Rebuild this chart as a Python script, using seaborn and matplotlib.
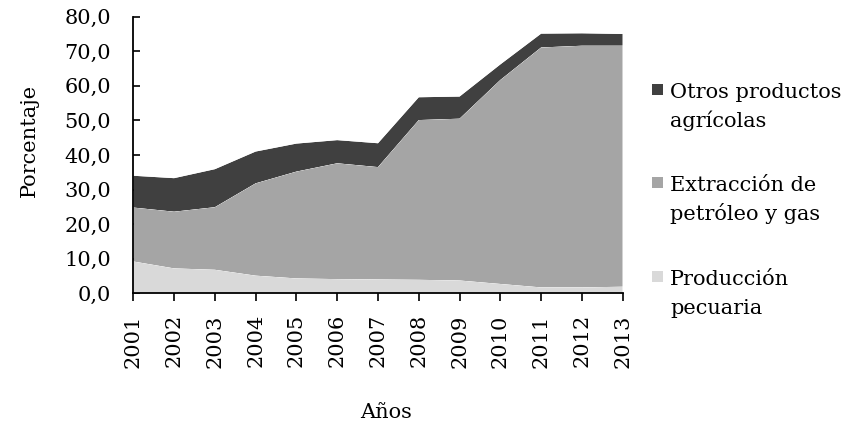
import matplotlib
matplotlib.use("Agg")
import matplotlib.pyplot as plt
from matplotlib.patches import Rectangle
import pandas as pd
import seaborn as sns
import seaborn.objects as so

# ---- data -------------------------------------------------------------
years = list(range(2001, 2014))
pecuaria = [9.2, 7.2, 6.8, 5.1, 4.3, 4.1, 4.0, 3.9, 3.7, 2.7, 1.7, 1.7, 1.9]
petroleo = [15.6, 16.4, 18.1, 26.7, 30.9, 33.5, 32.5, 46.2, 46.8, 59.0, 69.4, 69.9, 69.7]
otros = [9.2, 9.7, 11.0, 9.2, 8.1, 6.7, 6.9, 6.6, 6.4, 4.5, 4.0, 3.6, 3.4]

series_names = ["Producción pecuaria", "Extracción de petróleo y gas",
                "Otros productos agrícolas"]
series_colors = ["#d9d9d9", "#a5a5a5", "#404040"]

yticks = [0, 10, 20, 30, 40, 50, 60, 70, 80]
ytick_labels = [f"{v:.1f}".replace(".", ",") for v in yticks]
xtick_labels = [str(y) for y in years]

legend_order = [2, 1, 0]
legend_lines = {
    "Otros productos agrícolas": ["Otros productos", "agrícolas"],
    "Extracción de petróleo y gas": ["Extracción de", "petróleo y gas"],
    "Producción pecuaria": ["Producción", "pecuaria"],
}

# ---- long-form table ---------------------------------------------------
rows = []
for name, vals in zip(series_names, [pecuaria, petroleo, otros]):
    for yr, v in zip(years, vals):
        rows.append({"year": yr, "value": v, "series": name})
df = pd.DataFrame(rows)

# ---- style ------------------------------------------------------------
sns.set_theme(style="white")
FONT = ["DejaVu Serif"]
plt.rcParams["font.family"] = FONT
FS = 15

W, H = 862, 422
fig = plt.figure(figsize=(W / 100, H / 100), dpi=100)
ax_l, ax_r, ax_t, ax_b = 133.3, 622.7, 16.7, 293.3
ax = fig.add_axes([ax_l / W, 1 - ax_b / H, (ax_r - ax_l) / W, (ax_b - ax_t) / H])

theme = dict(sns.axes_style("white"))
theme.update({"font.family": FONT, "axes.facecolor": "white"})

(
    so.Plot(df, x="year", y="value", color="series")
    .add(so.Area(alpha=1, edgewidth=0), so.Stack(), legend=False)
    .scale(color=so.Nominal(dict(zip(series_names, series_colors)), order=series_names))
    .theme(theme)
    .on(ax)
    .plot()
)
for lg in list(fig.legends):
    lg.remove()

# ---- axes cosmetics -----------------------------------------------------
ax.set_facecolor("white")
ax.grid(False)
ax.set_xlim(years[0], years[-1])
ax.set_ylim(yticks[0], yticks[-1])
ax.set_xticks(years)
ax.set_xticklabels(xtick_labels, rotation=90, fontsize=FS, family=FONT)
ax.set_yticks(yticks)
ax.set_yticklabels(ytick_labels, fontsize=FS, family=FONT)
ax.tick_params(axis="y", direction="in", length=5, width=1.2, pad=16,
               left=True, colors="black")
ax.tick_params(axis="x", direction="out", length=6, width=1.2, pad=9,
               bottom=True, colors="black")
for s in ["top", "right"]:
    ax.spines[s].set_visible(False)
for s in ["left", "bottom"]:
    ax.spines[s].set_visible(True)
    ax.spines[s].set_color("black")
    ax.spines[s].set_linewidth(1.3)

ax.set_xlabel("Años", fontsize=FS, family=FONT, va="baseline", color="black")
ax.xaxis.set_label_coords((386 - ax_l) / (ax_r - ax_l), (ax_b - 417.7) / (ax_b - ax_t))
ax.set_ylabel("Porcentaje", fontsize=FS, family=FONT, va="center", color="black")
ax.yaxis.set_label_coords((29 - ax_l) / (ax_r - ax_l), (ax_b - 140) / (ax_b - ax_t))

# ---- legend (Excel-like, square aligned with first line) ----------------
base_y = [98, 191, 285]
line_gap = 29
for i, idx in enumerate(legend_order):
    name = series_names[idx]
    by = base_y[i]
    fig.patches.append(Rectangle((652 / W, 1 - (by - 3) / H), 11 / W, 11 / H,
                                 transform=fig.transFigure,
                                 facecolor=series_colors[idx], edgecolor="none"))
    for j, line in enumerate(legend_lines[name]):
        fig.text(670 / W, 1 - (by + j * line_gap) / H, line, fontsize=FS,
                 family=FONT, va="baseline", ha="left", color="black")

fig.savefig("out.png", dpi=100)
